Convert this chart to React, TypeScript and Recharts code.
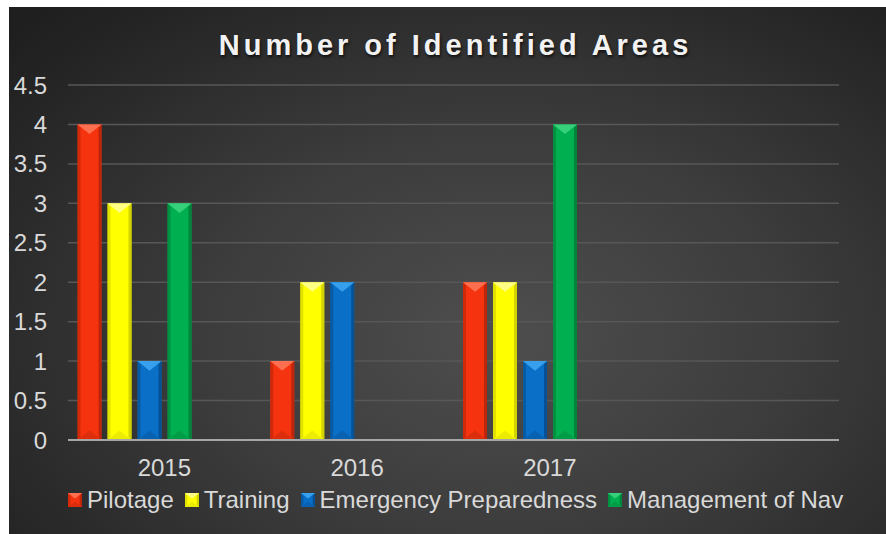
import React from 'react';
import { BarChart, Bar, XAxis, YAxis, CartesianGrid, Legend } from 'recharts';

const years = ['2015', '2016', '2017', ''];
const pilotage = [4, 1, 2, null];
const training = [3, 2, 2, null];
const emergencyPreparedness = [1, 2, 1, null];
const managementOfNav = [3, null, 4, null];
// two unused columns in the source sheet still reserve bar slots
const spareA = [null, null, null, null];
const spareB = [null, null, null, null];
const yTicks = [0, 0.5, 1, 1.5, 2, 2.5, 3, 3.5, 4, 4.5];

const data = years.map((year, i) => ({
  year,
  pilotage: pilotage[i],
  training: training[i],
  emergency: emergencyPreparedness[i],
  management: managementOfNav[i],
  spareA: spareA[i],
  spareB: spareB[i],
}));

type Tone = { base: string; light: string; dark: string };

const TONES: Record<string, Tone> = {
  pilotage: { base: '#f5330f', light: '#ff7a5c', dark: '#b0230a' },
  training: { base: '#ffff00', light: '#ffff9a', dark: '#c8c800' },
  emergency: { base: '#0a6fc6', light: '#3fa9f5', dark: '#054a8a' },
  management: { base: '#00b050', light: '#3fd683', dark: '#007a36' },
};

const SERIES = [
  { key: 'pilotage', name: 'Pilotage' },
  { key: 'training', name: 'Training' },
  { key: 'emergency', name: 'Emergency Preparedness' },
  { key: 'management', name: 'Management of Nav' },
];

const FONT = '"Liberation Sans", Arial, sans-serif';
const TEXT = '#d9d9d9';
const FS = 24;

// beveled column: flat face, darker sides, light top facet, shaded foot
const Bevel = ({ x, y, width, height, tone }: { x: number; y: number; width: number; height: number; tone: Tone }) => {
  if (!height || height <= 0 || !width) return null;
  const e = Math.min(3, width / 6);
  const tip = Math.min(width * 0.4, height / 2);
  return (
    <g>
      <rect x={x} y={y} width={width} height={height} fill={tone.base} />
      <polygon
        points={`${x},${y} ${x + e},${y + e} ${x + e},${y + height - e} ${x},${y + height}`}
        fill={tone.dark}
        opacity={0.55}
      />
      <polygon
        points={`${x + width},${y} ${x + width - e},${y + e} ${x + width - e},${y + height - e} ${x + width},${y + height}`}
        fill={tone.dark}
        opacity={0.8}
      />
      <polygon points={`${x},${y} ${x + width},${y} ${x + width / 2},${y + tip}`} fill={tone.light} opacity={0.85} />
      <polygon
        points={`${x},${y + height} ${x + width},${y + height} ${x + width / 2},${y + height - tip}`}
        fill={tone.dark}
        opacity={0.35}
      />
    </g>
  );
};

const LegendContent = () => (
  <div style={{ display: 'flex', alignItems: 'center', fontFamily: FONT, fontSize: FS, color: TEXT, whiteSpace: 'nowrap' }}>
    {SERIES.map((s) => (
      <div key={s.key} style={{ display: 'flex', alignItems: 'center', marginRight: 11 }}>
        <svg width={14} height={14} style={{ marginRight: 5 }}>
          <Bevel x={0} y={0} width={14} height={14} tone={TONES[s.key]} />
        </svg>
        <span>{s.name}</span>
      </div>
    ))}
  </div>
);

export default function App() {
  return (
    <div
      style={{
        position: 'absolute',
        left: 9,
        top: 7,
        width: 877,
        height: 527,
        background: 'radial-gradient(ellipse 75% 85% at 56% 62%, #4e4e4e 0%, #3c3c3c 45%, #262626 85%, #1f1f1f 100%)',
        fontFamily: FONT,
      }}
    >
      <div
        style={{
          position: 'absolute',
          top: 24,
          left: 8,
          width: 877,
          textAlign: 'center',
          fontSize: 29,
          lineHeight: '29px',
          fontWeight: 'bold',
          letterSpacing: 4,
          color: '#f2f2f2',
          textShadow: '1px 2px 3px rgba(0,0,0,0.7)',
        }}
      >
        Number of Identified Areas
      </div>
      <BarChart
        width={877}
        height={527}
        data={data}
        margin={{ top: 78, right: 47, bottom: 64, left: 0 }}
        barCategoryGap={9.5}
        barGap={6}
      >
        <CartesianGrid vertical={false} stroke="#575757" strokeWidth={1.5} />
        <XAxis
          dataKey="year"
          height={30}
          tickLine={false}
          tickSize={0}
          tickMargin={19}
          axisLine={{ stroke: '#a6a6a6', strokeWidth: 2 }}
          tick={{ fill: TEXT, fontSize: FS, fontFamily: FONT }}
        />
        <YAxis
          width={59}
          domain={[0, 4.5]}
          ticks={yTicks}
          axisLine={false}
          tickLine={false}
          tickSize={0}
          tickMargin={21}
          tick={{ fill: TEXT, fontSize: FS, fontFamily: FONT }}
        />
        <Legend
          layout="horizontal"
          verticalAlign="middle"
          align="center"
          content={<LegendContent />}
          wrapperStyle={{ top: 479, left: 59, width: 810 }}
        />
        {SERIES.map((s) => (
          <Bar
            key={s.key}
            dataKey={s.key}
            name={s.name}
            fill={TONES[s.key].base}
            isAnimationActive={false}
            shape={(p: any) => <Bevel x={p.x} y={p.y} width={p.width} height={p.height} tone={TONES[s.key]} />}
          />
        ))}
        <Bar dataKey="spareA" legendType="none" fill="none" isAnimationActive={false} />
        <Bar dataKey="spareB" legendType="none" fill="none" isAnimationActive={false} />
      </BarChart>
    </div>
  );
}
